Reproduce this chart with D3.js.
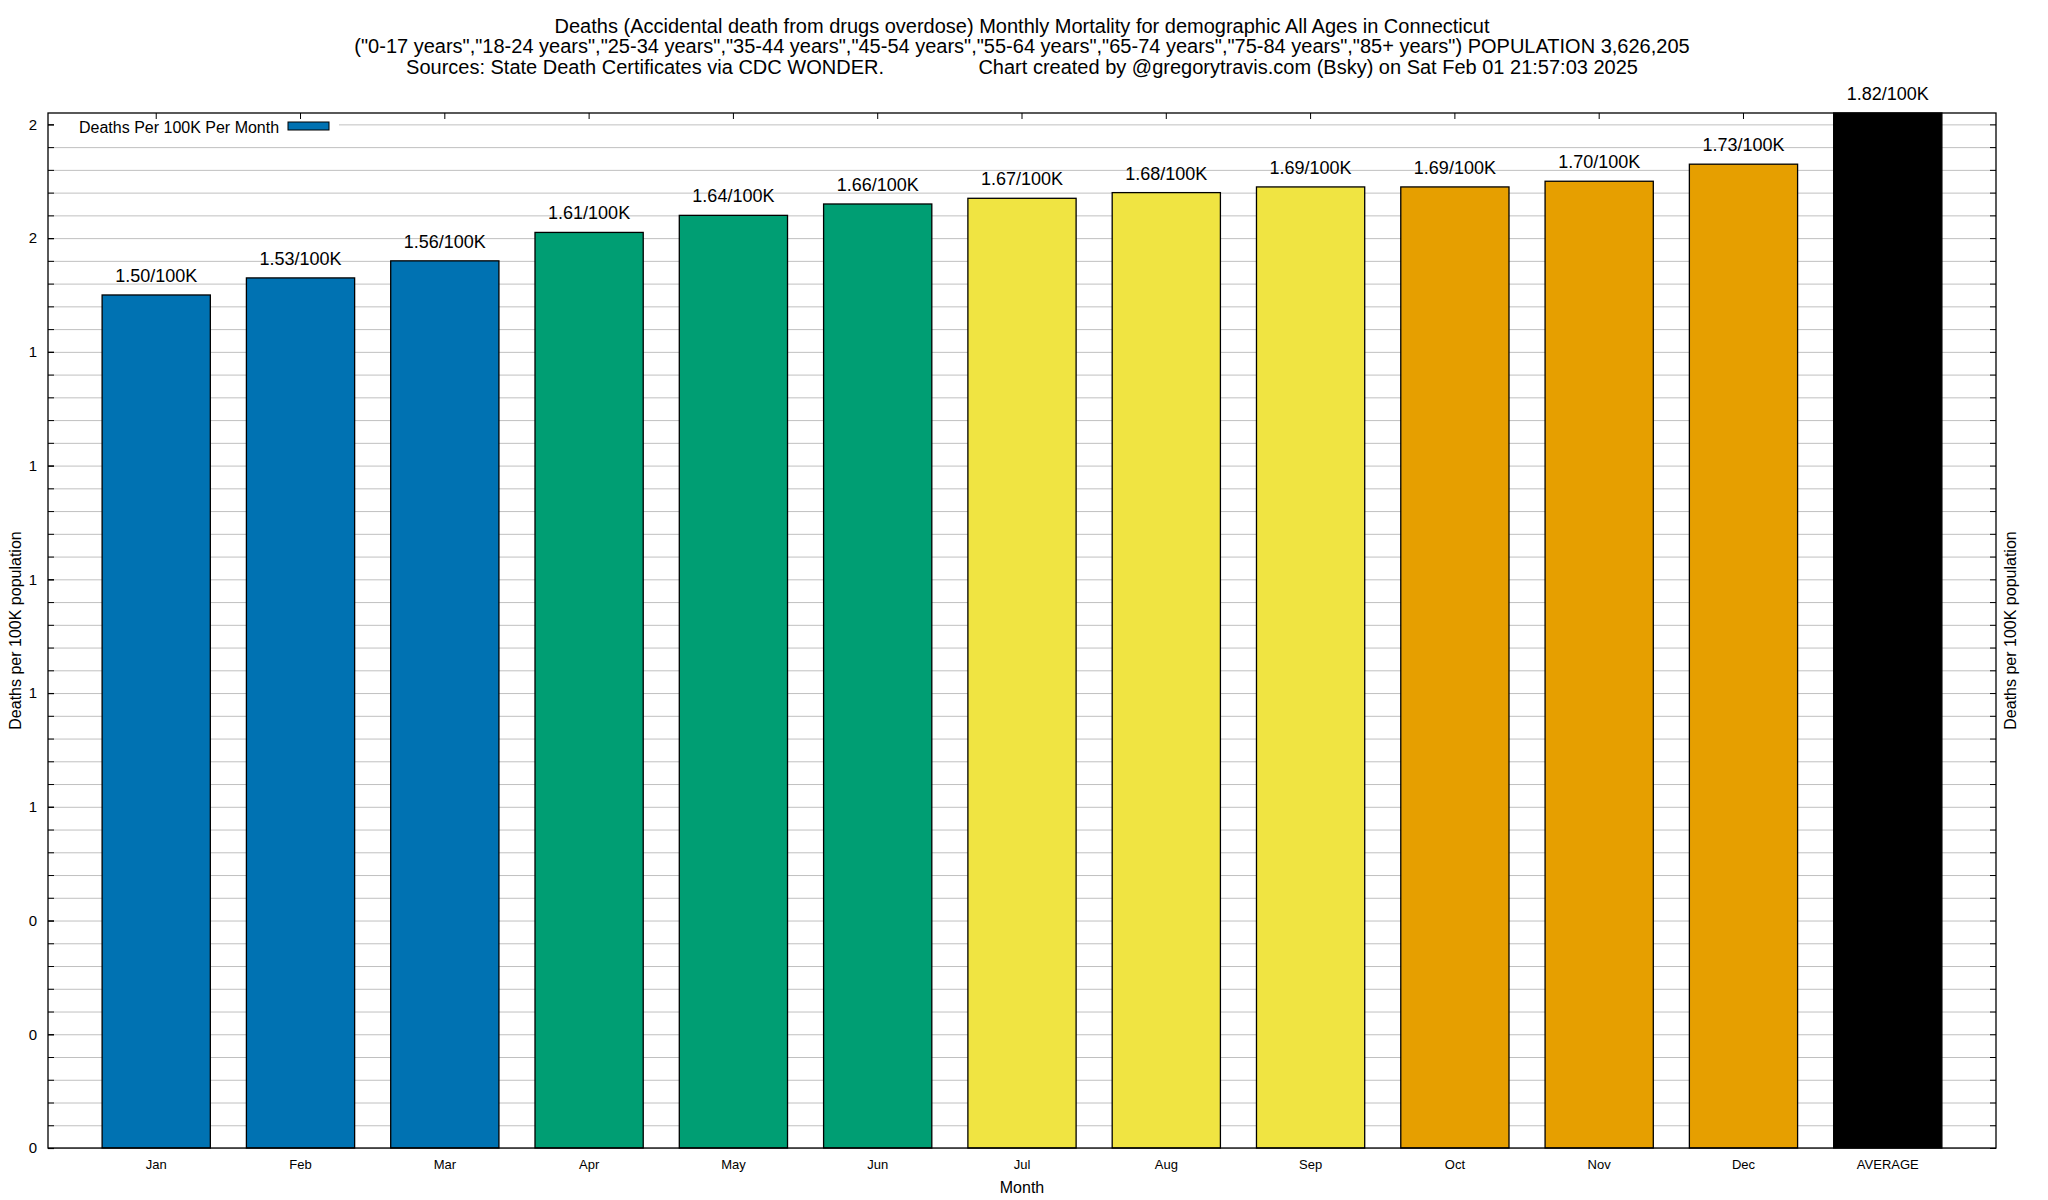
<!DOCTYPE html>
<html>
<head>
<meta charset="utf-8">
<script src="https://cdn.jsdelivr.net/npm/d3@7"></script>
<style>
    body { margin: 0; background: #fff; }
    svg { font-family: "Liberation Sans", Arial, Helvetica, sans-serif; }
    .title { white-space: pre; }
</style>
</head>
<body>
<svg id="chart" width="2048" height="1200"></svg>
<script>
// data
let months = ["Jan", "Feb", "Mar", "Apr", "May", "Jun", "Jul", "Aug", "Sep", "Oct", "Nov", "Dec", "AVERAGE"]
let rates = [1.50, 1.53, 1.56, 1.61, 1.64, 1.66, 1.67, 1.68, 1.69, 1.69, 1.70, 1.73, 1.82]
let rateLabels = ["1.50/100K", "1.53/100K", "1.56/100K", "1.61/100K", "1.64/100K", "1.66/100K", "1.67/100K",
    "1.68/100K", "1.69/100K", "1.69/100K", "1.70/100K", "1.73/100K", "1.82/100K"]
let barColours = ["#0072b2", "#0072b2", "#0072b2", "#009e73", "#009e73", "#009e73",
    "#f0e442", "#f0e442", "#f0e442", "#e69f00", "#e69f00", "#e69f00", "#000000"]
let yTicks = [0, 0.2, 0.4, 0.6, 0.8, 1.0, 1.2, 1.4, 1.6, 1.8]
let yTickLabels = ["0", "0", "0", "1", "1", "1", "1", "1", "2", "2"]
let titleLines = [
    "Deaths (Accidental death from drugs overdose) Monthly Mortality for demographic All Ages in Connecticut",
    "(\"0-17 years\",\"18-24 years\",\"25-34 years\",\"35-44 years\",\"45-54 years\",\"55-64 years\",\"65-74 years\",\"75-84 years\",\"85+ years\") POPULATION 3,626,205",
    "Sources: State Death Certificates via CDC WONDER.                 Chart created by @gregorytravis.com (Bsky) on Sat Feb 01 21:57:03 2025"
]
let legendLabel = "Deaths Per 100K Per Month"
let yTitle = "Deaths per 100K population"
let xTitle = "Month"

let margins = { t: 113, r: 52, b: 52, l: 48 }
let width = 2048, height = 1200
let x0 = margins.l, x1 = width - margins.r
let y0 = height - margins.b, y1 = margins.t

let svg = d3.select('#chart')

let x = d3.scaleBand()
    .domain(months)
    .range([x0, x1])
    .paddingInner(0.25)
    .paddingOuter(0.375)

let yMax = d3.max(rates)
let y = d3.scaleLinear()
    .domain([0, yMax])
    .range([y0, y1])

// minor ticks: 5 per major step, only inside the plot
let minorTicks = []
yTicks.forEach(t => { for (let k = 0; k < 5; k++) minorTicks.push(+(t + k * 0.04).toFixed(2)) })
minorTicks = minorTicks.filter(t => t <= yMax)

// gridlines
let grid = svg.append('g')
    .attr('transform', `translate(${x0},0)`)
    .call(d3.axisLeft(y).tickValues(minorTicks).tickSize(-(x1 - x0)).tickFormat(''))
grid.select('.domain').remove()
grid.selectAll('.tick line').attr('stroke', '#c0c0c0').attr('stroke-width', 1)

// legend background hides gridline under the key
svg.append('rect')
    .attr('x', x0 + 1).attr('y', y1 + 1)
    .attr('width', 290).attr('height', 25)
    .attr('fill', '#fff')

// bars
svg.append('g').selectAll('rect')
    .data(months)
    .join('rect')
    .attr('x', d => x(d))
    .attr('y', (d, i) => y(rates[i]))
    .attr('width', x.bandwidth())
    .attr('height', (d, i) => y0 - y(rates[i]))
    .attr('fill', (d, i) => barColours[i])
    .attr('stroke', '#000')
    .attr('stroke-width', 1.3)

// value labels
svg.append('g').selectAll('text')
    .data(months)
    .join('text')
    .attr('x', d => x(d) + x.bandwidth() / 2)
    .attr('y', (d, i) => y(rates[i]) - 13)
    .attr('text-anchor', 'middle')
    .attr('font-size', 18)
    .text((d, i) => rateLabels[i])

// border
svg.append('rect')
    .attr('x', x0).attr('y', y1)
    .attr('width', x1 - x0).attr('height', y0 - y1)
    .attr('fill', 'none')
    .attr('stroke', '#000')
    .attr('stroke-width', 1.3)

// left axis: major labels + inward ticks
let leftAxis = svg.append('g')
    .attr('transform', `translate(${x0},0)`)
    .call(d3.axisLeft(y).tickValues(yTicks).tickSize(-6).tickPadding(11).tickFormat((d, i) => yTickLabels[i]))
leftAxis.select('.domain').remove()
leftAxis.selectAll('text').style('font-size', '15px').attr('fill', '#000').attr('font-family', null)
leftAxis.selectAll('line').attr('stroke-width', 1.2)

let leftMinor = svg.append('g')
    .attr('transform', `translate(${x0},0)`)
    .call(d3.axisLeft(y).tickValues(minorTicks).tickSize(-6).tickFormat(''))
leftMinor.select('.domain').remove()

// right mirrored ticks
let rightAxis = svg.append('g')
    .attr('transform', `translate(${x1},0)`)
    .call(d3.axisRight(y).tickValues(minorTicks).tickSize(-6).tickFormat(''))
rightAxis.select('.domain').remove()

// top mirrored ticks at bar centres
let topAxis = svg.append('g')
    .attr('transform', `translate(0,${y1})`)
    .call(d3.axisBottom(x).tickSize(6).tickFormat(''))
topAxis.select('.domain').remove()

// bottom category labels
let bottomAxis = svg.append('g')
    .attr('transform', `translate(0,${y0})`)
    .call(d3.axisBottom(x).tickSize(0).tickPadding(12))
bottomAxis.select('.domain').remove()
bottomAxis.selectAll('text').style('font-size', '13px').attr('fill', '#000').attr('font-family', null)

// legend
svg.append('text')
    .attr('x', 79).attr('y', 133)
    .attr('font-size', 16)
    .text(legendLabel)
svg.append('rect')
    .attr('x', 288).attr('y', 122)
    .attr('width', 41).attr('height', 8)
    .attr('fill', barColours[0])
    .attr('stroke', '#000')
    .attr('stroke-width', 1)

// titles
svg.append('g').selectAll('text')
    .data(titleLines)
    .join('text')
    .attr('class', 'title')
    .attr('x', (x0 + x1) / 2)
    .attr('y', (d, i) => 32.5 + i * 20.5)
    .attr('text-anchor', 'middle')
    .attr('font-size', 20)
    .text(d => d)

svg.append('text')
    .attr('x', (x0 + x1) / 2).attr('y', 1193)
    .attr('text-anchor', 'middle')
    .attr('font-size', 16)
    .text(xTitle)

svg.append('text')
    .attr('transform', `translate(21,${(y0 + y1) / 2}) rotate(-90)`)
    .attr('text-anchor', 'middle')
    .attr('font-size', 16)
    .text(yTitle)

svg.append('text')
    .attr('transform', `translate(2016,${(y0 + y1) / 2}) rotate(-90)`)
    .attr('text-anchor', 'middle')
    .attr('font-size', 16)
    .text(yTitle)
</script>
</body>
</html>
